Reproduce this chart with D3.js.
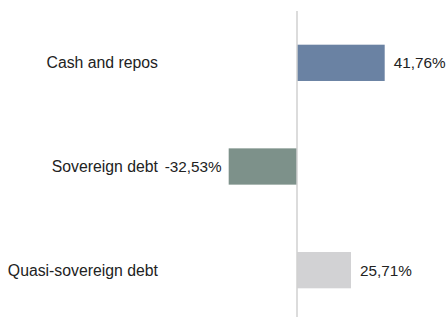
<!DOCTYPE html>
<html>
<head>
<meta charset="utf-8">
<script src="https://cdn.jsdelivr.net/npm/d3@7"></script>
<style>
  body { margin: 0; background: #fff; }
  svg { display: block; font-family: "Liberation Sans", Arial, sans-serif; }
</style>
</head>
<body>
<div id="chart"></div>
<script>
// data
const categories = ["Cash and repos", "Sovereign debt", "Quasi-sovereign debt"];
const values = [41.76, -32.53, 25.71];
const colors = ["#6a82a3", "#7d918a", "#d2d2d4"];

const width = 447, height = 317;

const svg = d3.select("#chart")
    .append("svg")
    .attr("width", width)
    .attr("height", height);

const zeroX = 297;
const pxPerUnit = 2.1;
const xScale = d3.scaleLinear()
    .domain([-40, 50])
    .range([zeroX - 40 * pxPerUnit, zeroX + 50 * pxPerUnit]);

const yScale = d3.scaleBand()
    .domain(categories)
    .range([11, 322])
    .paddingInner(0.65)
    .paddingOuter(0.325);

// european style, plain hyphen for negatives
const fmt = v => (v < 0 ? "-" : "") + d3.format(".2f")(Math.abs(v)).replace(".", ",") + "%";

const data = categories.map((c, i) => ({ category: c, value: values[i], color: colors[i] }));

// bars
svg.selectAll(".bar")
    .data(data)
    .enter().append("rect")
    .attr("class", "bar")
    .attr("x", d => xScale(Math.min(0, d.value)))
    .attr("width", d => Math.abs(xScale(d.value) - xScale(0)))
    .attr("y", d => yScale(d.category))
    .attr("height", yScale.bandwidth())
    .attr("fill", d => d.color);

// zero line
svg.append("line")
    .attr("x1", xScale(0))
    .attr("x2", xScale(0))
    .attr("y1", 11)
    .attr("y2", height)
    .attr("stroke", "#d0d0d0")
    .attr("stroke-width", 1.5);

// category labels
svg.selectAll(".cat")
    .data(data)
    .enter().append("text")
    .attr("class", "cat")
    .attr("x", 158)
    .attr("y", d => yScale(d.category) + yScale.bandwidth() / 2)
    .attr("dy", "0.35em")
    .attr("text-anchor", "end")
    .attr("font-size", 15.8)
    .attr("fill", "#222")
    .text(d => d.category);

// value labels
svg.selectAll(".val")
    .data(data)
    .enter().append("text")
    .attr("class", "val")
    .attr("x", d => d.value < 0 ? xScale(d.value) - 7 : xScale(d.value) + 9)
    .attr("y", d => yScale(d.category) + yScale.bandwidth() / 2)
    .attr("dy", "0.35em")
    .attr("text-anchor", d => d.value < 0 ? "end" : "start")
    .attr("font-size", 15.3)
    .attr("fill", "#222")
    .text(d => fmt(d.value));
</script>
</body>
</html>
